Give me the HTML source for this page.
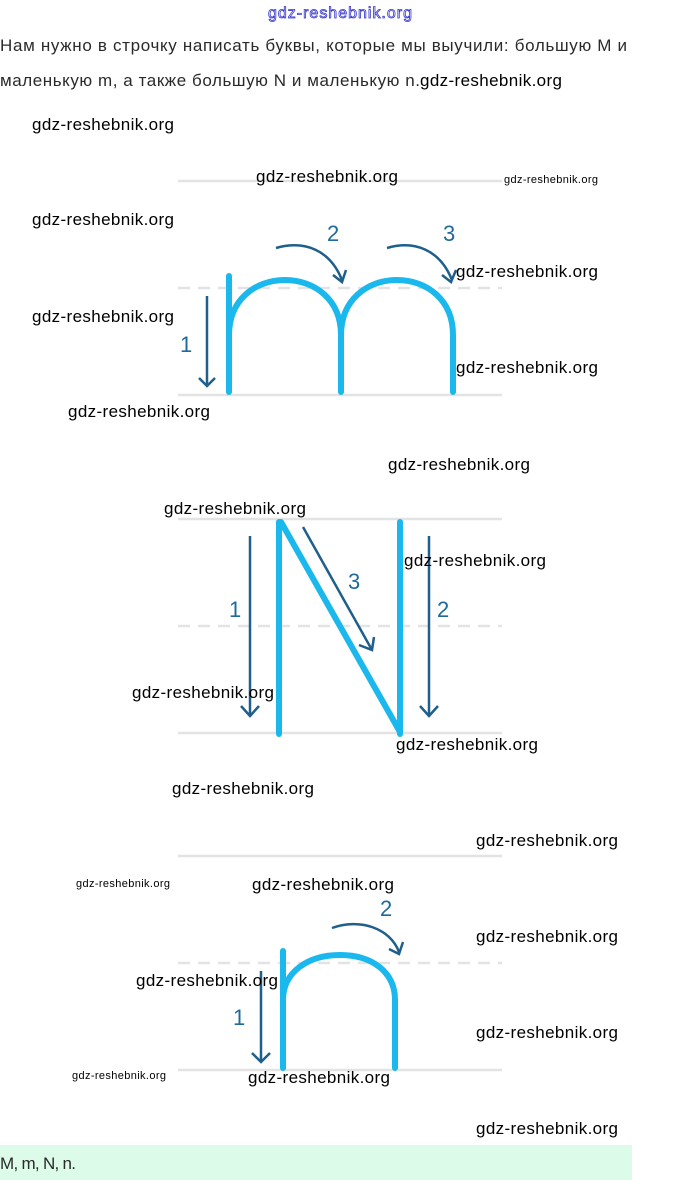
<!DOCTYPE html>
<html><head><meta charset="utf-8"><style>
html,body{margin:0;padding:0;background:#fff;width:680px;height:1180px;overflow:hidden}
svg{display:block}
.w{font-family:"Liberation Sans",sans-serif;font-size:17px;fill:#000}
.s{font-family:"Liberation Sans",sans-serif;font-size:11px;fill:#000}
.t{font-family:"Liberation Sans","Noto Sans CJK SC",sans-serif;font-size:17px;fill:#2a2a2a}
.n{font-family:"Liberation Sans",sans-serif;font-size:22px;fill:#1e6a9a}
</style></head><body>
<svg width="680" height="1180" viewBox="0 0 680 1180" xmlns="http://www.w3.org/2000/svg">
<defs><marker id="a" markerWidth="10" markerHeight="10" refX="5" refY="5" orient="auto" markerUnits="userSpaceOnUse"><path d="M-3,-3 L5,5 L-3,13" fill="none" stroke="#1e5f8c" stroke-width="2.5" transform="translate(0,-0)"/></marker></defs>
<text x="340" y="18" text-anchor="middle" font-family="Liberation Sans,sans-serif" font-size="16" fill="#fff" stroke="#3333cc" stroke-width="0.8" textLength="144">gdz-reshebnik.org</text>
<text class="t" x="0" y="51" textLength="627">Нам нужно в строчку написать буквы, которые мы выучили: большую М и</text>
<text class="t" x="0" y="86" textLength="420">маленькую m, а также большую N и маленькую n.</text>
<text class="w" x="420" y="86" textLength="142">gdz-reshebnik.org</text>
<g stroke="#e3e3e3" stroke-width="2.5" fill="none">
<line x1="178" y1="181" x2="502" y2="181"/><line x1="178" y1="288" x2="502" y2="288" stroke-dasharray="12,8"/><line x1="178" y1="395" x2="502" y2="395"/>
<line x1="178" y1="519" x2="502" y2="519"/><line x1="178" y1="626" x2="502" y2="626" stroke-dasharray="12,8"/><line x1="178" y1="733" x2="502" y2="733"/>
<line x1="178" y1="856" x2="502" y2="856"/><line x1="178" y1="963" x2="502" y2="963" stroke-dasharray="12,8"/><line x1="178" y1="1070" x2="502" y2="1070"/>
</g>
<g stroke="#1ab8ec" stroke-width="6" fill="none" stroke-linecap="round">
<line x1="229" y1="276" x2="229" y2="392"/>
<path d="M229,335 C229,300 255,280 285,280 C315,280 341,300 341,335 L341,392"/>
<path d="M341,335 C341,300 367,280 397,280 C427,280 453,300 453,335 L453,392"/>
<line x1="279" y1="522" x2="279" y2="734"/>
<line x1="281" y1="522" x2="400" y2="732"/>
<line x1="400" y1="522" x2="400" y2="734"/>
<line x1="283" y1="951" x2="283" y2="1068"/>
<path d="M283,1000 C283,972 308,955 340,955 C372,955 395,972 395,1000 L395,1068"/>
</g>
<g stroke="#1e5f8c" stroke-width="2.5" fill="none">
<line x1="207" y1="296" x2="207" y2="386"/><path d="M199,378 L207,386 L215,378"/>
<path d="M276,248 C305,240 330,250 342,280"/><path d="M333,275 L342,282 L346,270"/>
<path d="M387,248 C415,240 440,250 452,280"/><path d="M442,275 L451,282 L456,270"/>
<line x1="250" y1="536" x2="250" y2="716"/><path d="M241,706 L250,716 L259,706"/>
<line x1="303" y1="527" x2="372" y2="650"/><path d="M359,645 L372,650 L374,637"/>
<line x1="429" y1="536" x2="429" y2="716"/><path d="M420,706 L429,716 L438,706"/>
<line x1="261" y1="971" x2="261" y2="1062"/><path d="M252,1053 L261,1062 L270,1053"/>
<path d="M332,928 C360,918 390,928 399,952"/><path d="M389,949 L399,954 L403,942"/>
</g>
<text class="n" x="327" y="241">2</text><text class="n" x="443" y="241">3</text><text class="n" x="180" y="352">1</text>
<text class="n" x="229" y="617">1</text><text class="n" x="348" y="589">3</text><text class="n" x="437" y="617">2</text>
<text class="n" x="233" y="1025">1</text><text class="n" x="380" y="916">2</text>
<g class="w">
<text x="32" y="130" textLength="142">gdz-reshebnik.org</text>
<text x="256" y="182" textLength="142">gdz-reshebnik.org</text>
<text x="32" y="225" textLength="142">gdz-reshebnik.org</text>
<text x="456" y="277" textLength="142">gdz-reshebnik.org</text>
<text x="32" y="322" textLength="142">gdz-reshebnik.org</text>
<text x="456" y="373" textLength="142">gdz-reshebnik.org</text>
<text x="68" y="417" textLength="142">gdz-reshebnik.org</text>
<text x="388" y="470" textLength="142">gdz-reshebnik.org</text>
<text x="164" y="514" textLength="142">gdz-reshebnik.org</text>
<text x="404" y="566" textLength="142">gdz-reshebnik.org</text>
<text x="132" y="698" textLength="142">gdz-reshebnik.org</text>
<text x="396" y="750" textLength="142">gdz-reshebnik.org</text>
<text x="172" y="794" textLength="142">gdz-reshebnik.org</text>
<text x="476" y="846" textLength="142">gdz-reshebnik.org</text>
<text x="252" y="890" textLength="142">gdz-reshebnik.org</text>
<text x="476" y="942" textLength="142">gdz-reshebnik.org</text>
<text x="136" y="986" textLength="142">gdz-reshebnik.org</text>
<text x="476" y="1038" textLength="142">gdz-reshebnik.org</text>
<text x="248" y="1083" textLength="142">gdz-reshebnik.org</text>
<text x="476" y="1134" textLength="142">gdz-reshebnik.org</text>
</g>
<g class="s">
<text x="504" y="183" textLength="94">gdz-reshebnik.org</text>
<text x="76" y="887" textLength="94">gdz-reshebnik.org</text>
<text x="72" y="1079" textLength="94">gdz-reshebnik.org</text>
</g>
<rect x="0" y="1145" width="632" height="35" fill="#dcfce9"/>
<text class="t" x="0" y="1169" textLength="76">M, m, N, n.</text>
</svg>
</body></html>
